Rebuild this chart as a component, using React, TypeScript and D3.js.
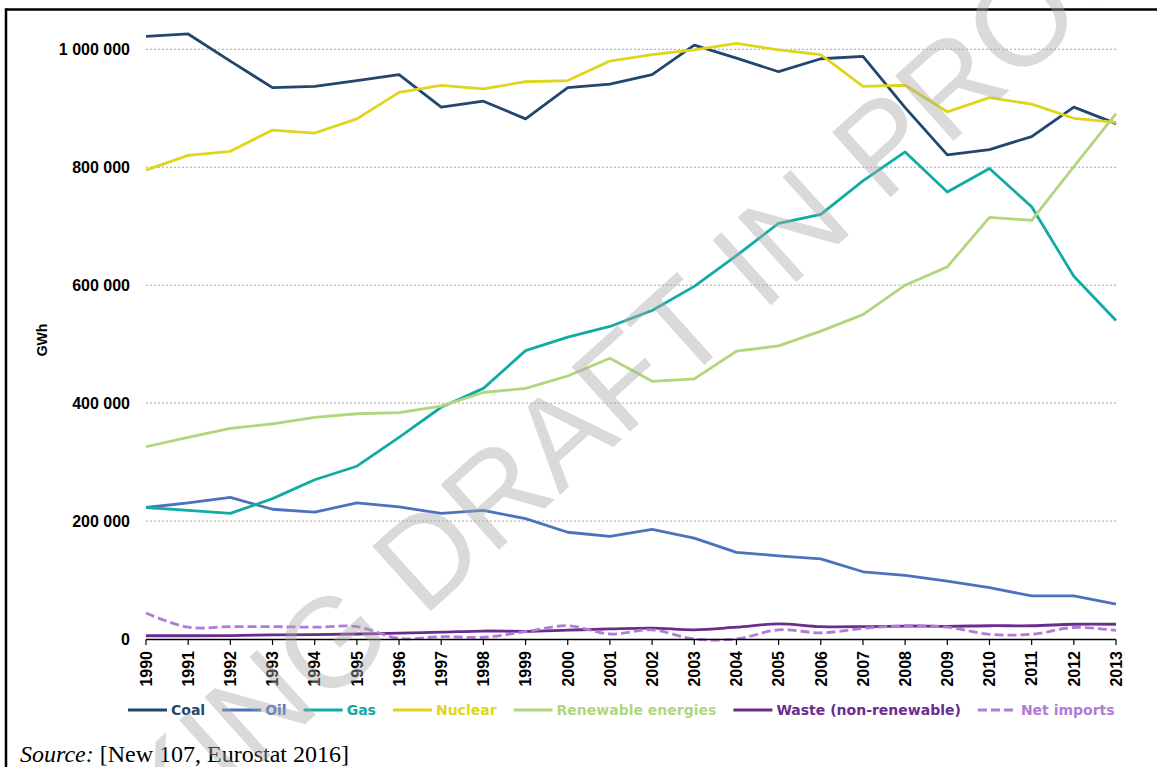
import React, { useEffect, useRef } from 'react';
import * as d3 from 'd3';

const years = ['1990','1991','1992','1993','1994','1995','1996','1997','1998','1999','2000','2001','2002','2003','2004','2005','2006','2007','2008','2009','2010','2011','2012','2013'];

const coal = [1022000,1026000,980000,935000,937000,947000,957000,902000,912000,882000,935000,941000,957000,1007000,985000,962000,984000,988000,901000,821000,830000,852000,902000,874000];
const oil = [223000,231000,240000,220000,215000,231000,224000,213000,218000,204000,181000,174000,186000,171000,147000,141000,136000,114000,108000,98000,87000,73000,73000,59000];
const gas = [223000,218000,213000,238000,270000,293000,342000,393000,425000,489000,512000,530000,557000,598000,650000,705000,720000,777000,826000,758000,798000,733000,615000,540000];
const nuclear = [795000,820000,827000,863000,858000,882000,927000,939000,933000,945000,947000,980000,991000,999000,1010000,999000,991000,937000,939000,894000,918000,907000,883000,876000];
const renewables = [326000,342000,357000,365000,376000,382000,384000,395000,418000,425000,446000,476000,437000,441000,488000,497000,522000,550000,600000,631000,715000,710000,801000,891000];
const waste = [5500,5500,5800,7000,7500,8500,10000,11500,13500,13000,15000,17000,18500,15500,20000,25500,21000,21000,22000,21500,22500,22500,25000,25000];
const netImports = [44000,20000,21000,21000,20000,21000,1000,4000,3000,12500,22500,8500,15500,0,0,15500,10500,18000,22500,20000,8000,8000,19500,14500];

const seriesNames = ['Coal','Oil','Gas','Nuclear','Renewable energies','Waste (non-renewable)','Net imports'];
const seriesValues = [coal, oil, gas, nuclear, renewables, waste, netImports];
const seriesColors = ['#23466f','#4d71bf','#12aba4','#dfd51d','#b1d67d','#6b2c90','#b27bd7'];
const seriesDashed = [false,false,false,false,false,false,true];
const seriesSmooth = [false,false,false,false,false,true,true];

const yTicks = [0,200000,400000,600000,800000,1000000];
const yTitle = 'GWh';
const sourceLabel = 'Source:';
const sourceText = ' [New 107, Eurostat 2016]';
const watermarkText = 'WORKING DRAFT IN PROGRESS';

export default function App() {
  const ref = useRef<SVGSVGElement>(null);

  useEffect(() => {
    const svg = d3.select(ref.current);
    svg.selectAll('*').remove();

    const x = d3.scalePoint<string>().domain(years).range([146, 1116]);
    const y = d3.scaleLinear().domain([0, 1000000]).range([639, 49.3]);
    const fmt = d3.formatLocale({ decimal: ',', thousands: ' ', grouping: [3], currency: ['', ''] }).format(',d');

    svg.append('rect').attr('width', 1157).attr('height', 767).attr('fill', '#fff');

    // frame
    svg.append('line').attr('x1', 6).attr('x2', 1157).attr('y1', 9.5).attr('y2', 9.5).attr('stroke', '#000').attr('stroke-width', 2.5);
    svg.append('line').attr('x1', 6).attr('x2', 6).attr('y1', 8.3).attr('y2', 767).attr('stroke', '#000').attr('stroke-width', 2.5);

    // gridlines
    const g = svg.append('g');
    g.selectAll('line.grid').data(yTicks.filter(t => t > 0)).enter().append('line')
      .attr('x1', x(years[0])!).attr('x2', x(years[years.length - 1])!)
      .attr('y1', d => y(d)).attr('y2', d => y(d))
      .attr('stroke', '#a6a6a6').attr('stroke-width', 1).attr('stroke-dasharray', '2,2');

    // y labels
    g.selectAll('text.ylab').data(yTicks).enter().append('text')
      .attr('x', 130).attr('y', d => y(d)).attr('dy', '0.36em')
      .attr('text-anchor', 'end')
      .attr('font-family', '"Liberation Sans", Arial, sans-serif').attr('font-weight', 'bold').attr('font-size', 16)
      .attr('fill', '#000')
      .text(d => fmt(d));

    // y title
    svg.append('text')
      .attr('transform', `translate(42,340) rotate(-90)`)
      .attr('text-anchor', 'middle').attr('dy', '0.36em')
      .attr('font-family', '"Liberation Sans", Arial, sans-serif').attr('font-weight', 'bold').attr('font-size', 14)
      .text(yTitle);

    // series
    seriesValues.forEach((vals, i) => {
      const line = d3.line<number>()
        .x((_, j) => x(years[j])!)
        .y(v => y(v))
        .curve(seriesSmooth[i] ? d3.curveCatmullRom.alpha(0.5) : d3.curveLinear);
      svg.append('path').attr('d', line(vals)!)
        .attr('fill', 'none').attr('stroke', seriesColors[i]).attr('stroke-width', 2.8)
        .attr('stroke-linejoin', 'round')
        .attr('stroke-dasharray', seriesDashed[i] ? '9,4' : null);
    });

    // x axis
    svg.append('line').attr('x1', x(years[0])!).attr('x2', x(years[years.length - 1])!)
      .attr('y1', 639.5).attr('y2', 639.5).attr('stroke', '#000').attr('stroke-width', 1.3);
    svg.selectAll('line.xt').data(years).enter().append('line')
      .attr('x1', d => x(d)!).attr('x2', d => x(d)!).attr('y1', 639.5).attr('y2', 645)
      .attr('stroke', '#000').attr('stroke-width', 1.2);
    svg.selectAll('text.xl').data(years).enter().append('text')
      .attr('transform', d => `translate(${x(d)},651) rotate(-90)`)
      .attr('dy', '0.36em').attr('text-anchor', 'end')
      .attr('font-family', '"Liberation Sans", Arial, sans-serif').attr('font-weight', 'bold').attr('font-size', 16)
      .text(d => d);

    // legend
    let lx = 128;
    const ly = 710;
    seriesNames.forEach((name, i) => {
      svg.append('line').attr('x1', lx).attr('x2', lx + 39).attr('y1', ly).attr('y2', ly)
        .attr('stroke', seriesColors[i]).attr('stroke-width', 3)
        .attr('stroke-dasharray', seriesDashed[i] ? '9,4' : null);
      const t = svg.append('text').attr('x', lx + 43).attr('y', ly).attr('dy', '0.36em')
        .attr('font-family', '"DejaVu Sans", Verdana, sans-serif').attr('font-weight', 'bold').attr('font-size', 14)
        .attr('fill', seriesColors[i]).text(name);
      const w = (t.node() as SVGTextElement).getComputedTextLength();
      lx = lx + 43 + w + 17;
    });

    // source
    const src = svg.append('text').attr('x', 20).attr('y', 762)
      .attr('font-family', '"Liberation Serif", "Times New Roman", serif').attr('font-size', 24);
    src.append('tspan').attr('font-style', 'italic').text(sourceLabel);
    src.append('tspan').text(sourceText);

    // watermark
    svg.append('text')
      .attr('transform', 'translate(646,356) rotate(-42)')
      .attr('text-anchor', 'middle').attr('dy', '0.36em')
      .attr('font-family', '"Liberation Sans", Arial, sans-serif').attr('font-size', 127)
      .attr('fill', '#a6a6a6').attr('fill-opacity', 0.42)
      .text(watermarkText);
  }, []);

  return (
    <svg ref={ref} width={1157} height={767}
      style={{ position: 'absolute', left: 0, top: 0, display: 'block' }} />
  );
}
